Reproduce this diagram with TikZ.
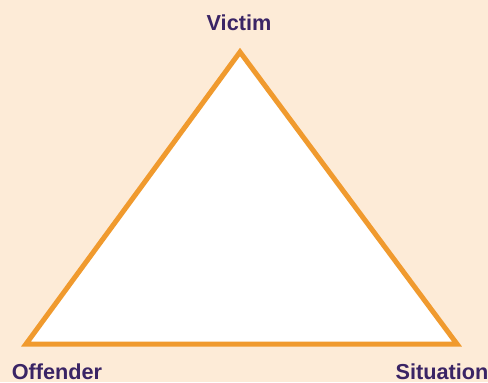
\documentclass[tikz,border=0pt]{standalone}
\usepackage{fontspec}
\setmainfont{Liberation Sans}
\usetikzlibrary{positioning}

\definecolor{peach}{HTML}{FDEBD7}
\definecolor{edgeorange}{HTML}{F09A2E}
\definecolor{labelpurple}{HTML}{3A2465}

\begin{document}
\begin{tikzpicture}[
  x=0.03cm, y=-0.03cm,
  corner/.style={font=\fontsize{18.5}{21}\selectfont\bfseries,text=labelpurple,inner sep=0pt,anchor=base},
]

% Background
\fill[peach] (0,0) rectangle (488,382);
\useasboundingbox (0,0) rectangle (488,382);

% Corners of the triangle
\coordinate (victimpt) at (240,52);
\coordinate (offenderpt) at (26,344);
\coordinate (situationpt) at (457,344);

% Triangle
\draw[edgeorange,fill=white,line width=0.15cm,line join=miter]
  (victimpt) -- (offenderpt) -- (situationpt) -- cycle;

% Labels
\node[corner] (victim) at (239,30) {Victim};
\node[corner] (offender) at (57,379) {Offender};
\node[corner] (situation) at (442,379) {Situation};

\end{tikzpicture}
\end{document}
